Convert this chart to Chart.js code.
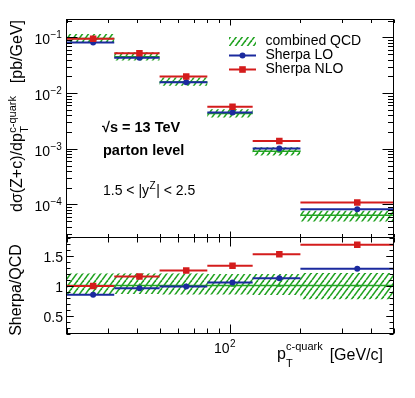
<!DOCTYPE html>
<html>
<head>
<meta charset="utf-8">
<script src="https://cdn.jsdelivr.net/npm/chart.js@4/dist/chart.umd.min.js"></script>
<style>
html, body { margin: 0; padding: 0; background: #fff; }
#wrap { position: relative; width: 415px; height: 398px; }
#wrap canvas { position: absolute; left: 0; top: 0; }
</style>
</head>
<body>
<div id="wrap">
  <canvas id="topChart" width="415" height="398"></canvas>
  <canvas id="ratioChart" width="415" height="398"></canvas>
</div>
<script>
// pT(c-quark) bins [GeV/c]
const binEdges = [20, 32, 50, 80, 125, 200, 500];
const binCenters = [26, 41, 65, 102.5, 162.5, 350];

// dsigma/dpT [pb/GeV]
const qcdXsec = [0.096, 0.045, 0.0159, 0.0043, 0.0009, 0.000064];
const loXsec = [0.081, 0.043, 0.0157, 0.0045, 0.00101, 0.000082];
const nloXsec = [0.095, 0.052, 0.0198, 0.0057, 0.00138, 0.000108];

// relative QCD uncertainty band
const qcdBandLo = [0.86, 0.86, 0.85, 0.85, 0.84, 0.77];
const qcdBandHi = [1.20, 1.20, 1.20, 1.19, 1.19, 1.21];

// Sherpa / QCD
const qcdRatio = [1, 1, 1, 1, 1, 1];
const loRatio = [0.845, 0.955, 0.985, 1.05, 1.12, 1.28];
const nloRatio = [0.99, 1.15, 1.25, 1.33, 1.52, 1.68];

// axis ticks
const xMajorTicks = [100];
const xMinorTicks = [20, 30, 40, 50, 60, 70, 80, 90, 200, 300, 400, 500];
const xTickLabels = [{ base: '10', exp: '2' }];
const yTopMajorTicks = [1e-4, 1e-3, 1e-2, 1e-1];
const yTopTickLabels = ['\u22124', '\u22123', '\u22122', '\u22121'];
const yRatioMajorTicks = [0.5, 1, 1.5];
const yRatioTickLabels = ['0.5', '1', '1.5'];

const FONT = '"Liberation Sans", Arial, Helvetica, sans-serif';
const RED = '#d41c1c';
const BLUE = '#1b2a9e';
const GREEN = '#22a322';

function binSegments(vals) {
    const pts = [];
    vals.forEach((v, i) => {
        pts.push({ x: binEdges[i], y: v }, { x: binEdges[i + 1], y: v }, { x: binEdges[i + 1], y: null });
    });
    return pts;
}

function stepBand(vals) {
    const pts = [];
    vals.forEach((v, i) => {
        pts.push({ x: binEdges[i], y: v }, { x: binEdges[i + 1], y: v });
    });
    return pts;
}

function centers(vals) {
    return vals.map((v, i) => ({ x: binCenters[i], y: v }));
}

function hatchPattern(ctx) {
    const c = document.createElement('canvas');
    c.width = 6; c.height = 8;
    const g = c.getContext('2d');
    g.strokeStyle = GREEN;
    g.lineWidth = 1.6;
    [-6, 0, 6].forEach(dx => {
        g.beginPath();
        g.moveTo(dx, 8);
        g.lineTo(dx + 6, 0);
        g.stroke();
    });
    return ctx.createPattern(c, 'repeat');
}

function buildDatasets(qcd, lo, nlo, bandLo, bandHi, pattern) {
    return [
        { data: centers(nlo), showLine: false, pointStyle: 'rect', pointRadius: 4.6,
          pointBackgroundColor: RED, pointBorderColor: RED, pointBorderWidth: 0, order: 0 },
        { data: binSegments(nlo), borderColor: RED, borderWidth: 2, pointRadius: 0, order: 1 },
        { data: centers(lo), showLine: false, pointStyle: 'circle', pointRadius: 3,
          pointBackgroundColor: BLUE, pointBorderColor: BLUE, pointBorderWidth: 0, order: 2 },
        { data: binSegments(lo), borderColor: BLUE, borderWidth: 2, pointRadius: 0, order: 3 },
        { data: centers(qcd), showLine: false, pointStyle: 'triangle', pointRadius: 2.6,
          pointBackgroundColor: GREEN, pointBorderColor: GREEN, pointBorderWidth: 0, order: 4 },
        { data: binSegments(qcd), borderColor: GREEN, borderWidth: 1.5, pointRadius: 0, order: 5 },
        { data: stepBand(bandHi), borderWidth: 0, pointRadius: 0, fill: '+1',
          backgroundColor: pattern, order: 6 },
        { data: stepBand(bandLo), borderWidth: 0, pointRadius: 0, fill: false, order: 7 }
    ];
}

function line(ctx, x1, y1, x2, y2) {
    ctx.beginPath();
    ctx.moveTo(x1, y1);
    ctx.lineTo(x2, y2);
    ctx.stroke();
}

function drawFrame(chart, t) {
    const { ctx, chartArea: a, scales: { x, y } } = chart;
    ctx.save();
    ctx.strokeStyle = '#000';
    ctx.lineWidth = 1;
    ctx.strokeRect(a.left, a.top, a.right - a.left, a.bottom - a.top);
    xMinorTicks.concat(xMajorTicks).forEach(v => {
        const len = xMajorTicks.includes(v) ? t.xMajor : t.xMinor;
        const px = Math.round(x.getPixelForValue(v)) + 0.5;
        line(ctx, px, a.top, px, a.top + len);
        line(ctx, px, a.bottom, px, a.bottom - len);
    });
    t.yMinor.concat(t.yMajor).forEach(v => {
        const len = t.yMajor.includes(v) ? t.yMajorLen : t.yMinorLen;
        const py = Math.round(y.getPixelForValue(v)) + 0.5;
        line(ctx, a.left, py, a.left + len, py);
        line(ctx, a.right, py, a.right - len, py);
    });
    ctx.restore();
}

const topMin = 2.55e-5, topMax = 0.21;

const topFrame = {
    id: 'topFrame',
    afterDraw(chart) {
        const { ctx, scales: { y } } = chart;
        const yMinor = [];
        for (let e = -5; e <= -1; e++) {
            for (let m = 2; m <= 9; m++) {
                const v = m * Math.pow(10, e);
                if (v > topMin && v < topMax) yMinor.push(v);
            }
        }
        drawFrame(chart, { xMajor: 6, xMinor: 3.5, yMajor: yTopMajorTicks, yMinor,
                           yMajorLen: 11, yMinorLen: 5.5 });

        ctx.save();
        ctx.fillStyle = '#000';
        ctx.textBaseline = 'alphabetic';
        // y tick labels
        yTopMajorTicks.forEach((v, i) => {
            const py = y.getPixelForValue(v);
            ctx.font = '14px ' + FONT;
            ctx.textAlign = 'right';
            ctx.fillText('10', 50, py + 7);
            ctx.font = '10px ' + FONT;
            ctx.textAlign = 'left';
            ctx.fillText(yTopTickLabels[i], 50.5, py + 1);
        });

        // y title
        ctx.save();
        ctx.translate(22, 212);
        ctx.rotate(-Math.PI / 2);
        ctx.textAlign = 'left';
        ctx.font = '16px ' + FONT;
        const main = 'd\u03c3(Z+c)/dp';
        ctx.fillText(main, 0, 0);
        const w1 = ctx.measureText(main).width;
        ctx.font = '11px ' + FONT;
        ctx.fillText('c-quark', w1 + 0.5, -6.5);
        ctx.fillText('T', w1 + 0.5, 5.5);
        ctx.font = '16px ' + FONT;
        ctx.textAlign = 'right';
        ctx.fillText('[pb/GeV]', 192, 0);
        ctx.restore();

        // legend
        ctx.fillStyle = hatchPattern(ctx);
        ctx.fillRect(229, 37, 27, 9);
        ctx.lineWidth = 2;
        ctx.strokeStyle = BLUE;
        line(ctx, 229, 55.5, 256, 55.5);
        ctx.fillStyle = BLUE;
        ctx.beginPath();
        ctx.arc(242.5, 55.5, 3, 0, Math.PI * 2);
        ctx.fill();
        ctx.strokeStyle = RED;
        line(ctx, 229, 69.5, 256, 69.5);
        ctx.fillStyle = RED;
        ctx.fillRect(239.2, 66.2, 6.6, 6.6);

        ctx.fillStyle = '#000';
        ctx.font = '14px ' + FONT;
        ctx.textAlign = 'left';
        ctx.textBaseline = 'middle';
        ctx.fillText('combined QCD', 265.5, 41);
        ctx.fillText('Sherpa LO', 265.5, 55.5);
        ctx.fillText('Sherpa NLO', 265.5, 69.5);

        // annotations
        ctx.textBaseline = 'alphabetic';
        ctx.font = 'bold 14.5px ' + FONT;
        ctx.fillText('\u221as = 13 TeV', 102, 132);
        ctx.fillText('parton level', 103, 155);
        ctx.font = '14px ' + FONT;
        let xx = 103;
        const p1 = '1.5 < |y';
        ctx.fillText(p1, xx, 195);
        xx += ctx.measureText(p1).width + 0.5;
        ctx.font = '10px ' + FONT;
        ctx.fillText('Z', xx, 189);
        xx += ctx.measureText('Z').width + 0.5;
        ctx.font = '14px ' + FONT;
        ctx.fillText('| < 2.5', xx, 195);
        ctx.restore();
    }
};

const ratioFrame = {
    id: 'ratioFrame',
    afterDraw(chart) {
        const { ctx, scales: { x, y } } = chart;
        const yMinor = [];
        for (let k = 2; k <= 18; k++) yMinor.push(k / 10);
        drawFrame(chart, { xMajor: 9, xMinor: 5, yMajor: yRatioMajorTicks, yMinor,
                           yMajorLen: 7, yMinorLen: 4 });

        ctx.save();
        ctx.fillStyle = '#000';
        ctx.textBaseline = 'alphabetic';
        ctx.font = '14px ' + FONT;
        ctx.textAlign = 'right';
        yRatioMajorTicks.forEach((v, i) => {
            ctx.fillText(yRatioTickLabels[i], 63, y.getPixelForValue(v) + 6);
        });

        // x tick labels
        xMajorTicks.forEach((v, i) => {
            const px = x.getPixelForValue(v);
            ctx.font = '14px ' + FONT;
            ctx.textAlign = 'right';
            ctx.fillText(xTickLabels[i].base, px - 0.5, 353);
            ctx.font = '10px ' + FONT;
            ctx.textAlign = 'left';
            ctx.fillText(xTickLabels[i].exp, px, 347);
        });

        // x title
        ctx.textAlign = 'left';
        ctx.font = '16px ' + FONT;
        ctx.fillText('p', 277, 359);
        ctx.font = '11px ' + FONT;
        ctx.fillText('c-quark', 286, 349.5);
        ctx.fillText('T', 286, 367);
        ctx.font = '16px ' + FONT;
        ctx.textAlign = 'right';
        ctx.fillText('[GeV/c]', 383, 359.5);

        // y title
        ctx.save();
        ctx.translate(21, 290);
        ctx.rotate(-Math.PI / 2);
        ctx.textAlign = 'center';
        ctx.fillText('Sherpa/QCD', 0, 0);
        ctx.restore();
        ctx.restore();
    }
};

function panelOptions(top, bottom, yScale) {
    return {
        responsive: false,
        animation: false,
        events: [],
        spanGaps: false,
        layout: { padding: { left: 66.5, right: 415 - 393.5, top: top, bottom: 398 - bottom } },
        plugins: { legend: { display: false }, tooltip: { enabled: false } },
        scales: {
            x: { type: 'logarithmic', min: 20, max: 500, display: false },
            y: Object.assign({ display: false }, yScale)
        }
    };
}

const topCtx = document.getElementById('topChart').getContext('2d');
new Chart(topCtx, {
    type: 'line',
    data: {
        datasets: buildDatasets(qcdXsec, loXsec, nloXsec,
            qcdXsec.map((v, i) => v * qcdBandLo[i]),
            qcdXsec.map((v, i) => v * qcdBandHi[i]),
            hatchPattern(topCtx))
    },
    options: panelOptions(19.5, 237.5, { type: 'logarithmic', min: topMin, max: topMax }),
    plugins: [topFrame]
});

const ratioCtx = document.getElementById('ratioChart').getContext('2d');
new Chart(ratioCtx, {
    type: 'line',
    data: {
        datasets: buildDatasets(qcdRatio, loRatio, nloRatio, qcdBandLo, qcdBandHi, hatchPattern(ratioCtx))
    },
    options: panelOptions(237.5, 333.5, { type: 'linear', min: 0.2, max: 1.8 }),
    plugins: [ratioFrame]
});
</script>
</body>
</html>
